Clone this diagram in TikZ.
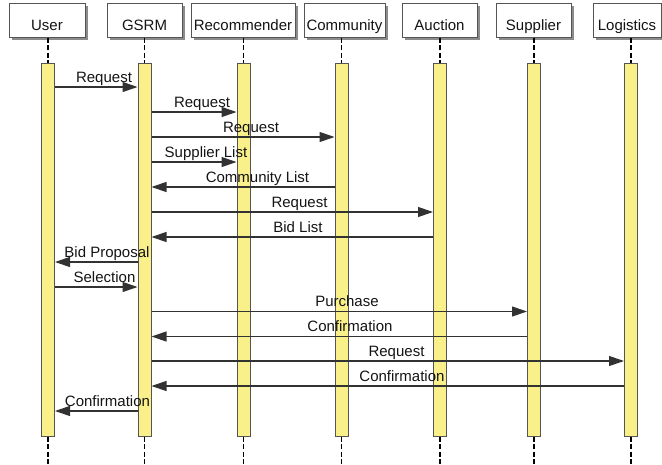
\documentclass[tikz,border=0pt]{standalone}
\usepackage{fontspec}
\setmainfont{Liberation Sans}
\usetikzlibrary{arrows.meta,shadows,calc}
\definecolor{barfill}{RGB}{250,240,138}
\definecolor{edge}{RGB}{85,85,85}
\definecolor{ink}{RGB}{20,20,20}
\definecolor{wire}{RGB}{50,50,50}
\tikzset{
  head/.style={draw=edge, line width=1pt, fill=white, inner sep=0pt,
    minimum height=34pt, text height=20pt, text depth=0pt,
    font=\fontsize{15}{18}\selectfont, text=ink,
    drop shadow={shadow xshift=3pt, shadow yshift=-3pt, fill=black!45, opacity=1}},
  actbar/.style={draw=edge, line width=1pt, fill=barfill, inner sep=0pt,
    minimum width=13pt, minimum height=373pt},
  life/.style={draw=black, line width=1.6pt, dash pattern=on 5pt off 2.5pt},
  msg/.style={draw=wire, line width=1.1pt, -{Triangle[length=15pt,width=10pt]}},
  lbl/.style={anchor=base, inner sep=0pt, font=\fontsize{15}{18}\selectfont, text=ink}
}
\begin{document}
\begin{tikzpicture}[x=1pt,y=-1pt]
\useasboundingbox (0,0) rectangle (662,464);

% participant boxes
\node[head, minimum width=76pt]  (hUser) at (47,20)    {User};
\node[head, minimum width=75pt]  (hGSRM) at (144.5,20) {GSRM};
\node[head, minimum width=104pt] (hRec)  at (243,20)   {Recommender};
\node[head, minimum width=81pt]  (hComm) at (344.5,20) {Community};
\node[head, minimum width=75pt]  (hAuc)  at (439.5,20) {Auction};
\node[head, minimum width=75pt]  (hSup)  at (533.5,20) {Supplier};
\node[head, minimum width=68pt]  (hLog)  at (627,20)   {Logistics};

% activation bars
\node[actbar] (bUser) at (48,249.5)    {};
\node[actbar] (bGSRM) at (144.5,249.5) {};
\node[actbar] (bRec)  at (243.5,249.5) {};
\node[actbar] (bComm) at (341.5,249.5) {};
\node[actbar] (bAuc)  at (440,249.5)   {};
\node[actbar] (bSup)  at (534,249.5)   {};
\node[actbar] (bLog)  at (631,249.5)   {};

% dashed lifelines above and below the bars
\foreach \h/\b in {hUser/bUser,hGSRM/bGSRM,hRec/bRec,hComm/bComm,hAuc/bAuc,hSup/bSup,hLog/bLog}{
  \coordinate (\b-end) at ($(\b.south)+(0,30)$);
  \draw[life] (\b.north |- \h.south) -- (\b.north);
  \draw[life] (\b.south) -- (\b-end);
}

% messages
\foreach \f/\fa/\t/\ta/\y/\lx/\txt in {
  bUser/east/bGSRM/west/87/104/Request,
  bGSRM/east/bRec/west/112/202/Request,
  bGSRM/east/bComm/west/137/251/Request,
  bGSRM/east/bRec/west/162/206/Supplier List,
  bComm/west/bGSRM/east/187/257.5/Community List,
  bGSRM/east/bAuc/west/212/299.5/Request,
  bAuc/west/bGSRM/east/237/298/Bid List,
  bGSRM/west/bUser/east/262/107/Bid Proposal,
  bUser/east/bGSRM/west/287/104.5/Selection,
  bGSRM/east/bSup/west/311.5/347/Purchase,
  bSup/west/bGSRM/east/336.5/350/Confirmation,
  bGSRM/east/bLog/west/361/396.5/Request,
  bLog/west/bGSRM/east/386/402/Confirmation,
  bGSRM/west/bUser/east/411/107.5/Confirmation}{
  \draw[msg] (\f.\fa |- 0,\y) -- (\t.\ta |- 0,\y);
  \node[lbl] at (\lx,\y-5) {\txt};
}
\end{tikzpicture}
\end{document}
